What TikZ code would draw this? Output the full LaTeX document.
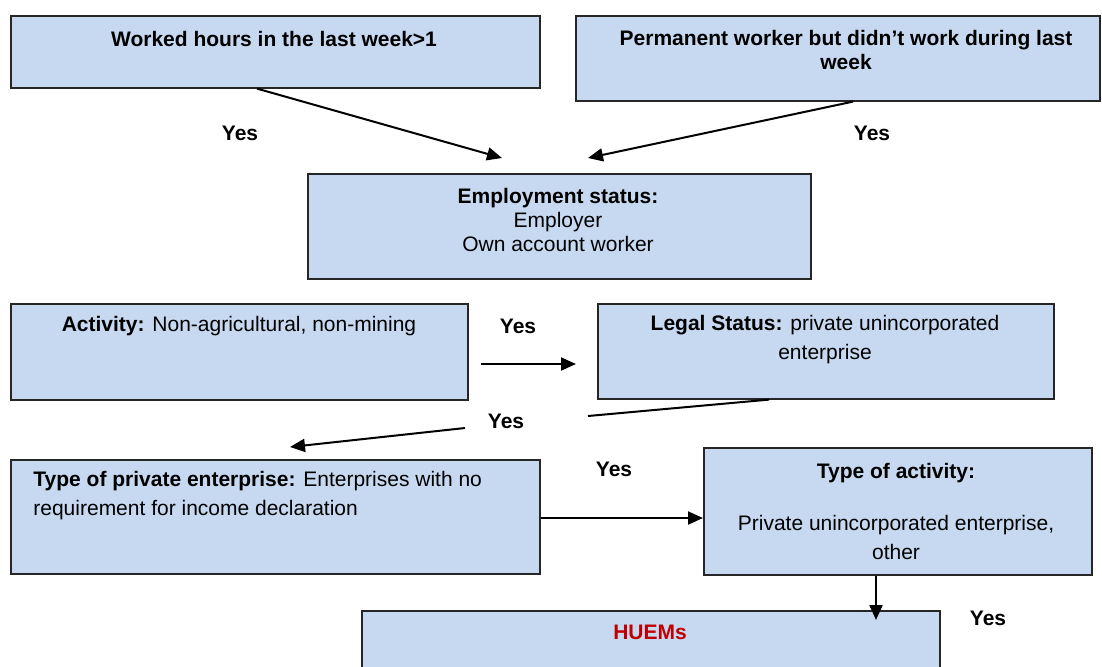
\documentclass[tikz,border=0pt]{standalone}
\usepackage{fontspec}
\setmainfont{Liberation Sans}
\usetikzlibrary{arrows.meta,calc}
\definecolor{boxblue}{RGB}{198,217,241}
\definecolor{huemred}{RGB}{192,0,0}

\begin{document}
\begin{tikzpicture}[x=0.5pt,y=-0.5pt,
  stage/.style={draw=black!85,fill=boxblue,line width=0.8pt,anchor=north west,inner sep=0pt},
  stagetext/.style={font=\fontsize{10.5}{12}\selectfont,align=center,inner sep=0pt},
  widetext/.style={stagetext,font=\fontsize{10.5}{14.5}\selectfont},
  yes/.style={font=\fontsize{10.5}{12}\selectfont\bfseries,inner sep=0pt},
  flow/.style={-{Triangle[length=7.5pt,width=6.5pt]},line width=1pt}]
  \useasboundingbox (0,0) rectangle (1102,666);
  \clip (0,0) rectangle (1102,666);

  % boxes
  \node[stage,minimum width=264.5pt,minimum height=36pt] (work) at (10,15) {};
  \node[stage,minimum width=262pt,minimum height=42.5pt] (perm) at (575,15) {};
  \node[stage,minimum width=251.5pt,minimum height=52.5pt] (empl) at (307,173) {};
  \node[stage,minimum width=228.5pt,minimum height=48pt] (activ) at (10,303) {};
  \node[stage,minimum width=228pt,minimum height=47.5pt] (legal) at (597,303) {};
  \node[stage,minimum width=264.5pt,minimum height=57pt] (priv) at (10,459) {};
  \node[stage,minimum width=194pt,minimum height=63.5pt] (tact) at (703,447) {};
  \node[stage,minimum width=289pt,minimum height=40pt] (huem) at (361,610) {};

  % box texts
  \node[stagetext] (work-t) at (274,39) {\textbf{Worked hours in the last week>1}};
  \node[stagetext] (perm-t) at (846,50) {\textbf{Permanent worker but didn’t work during last}\\\textbf{week}};
  \node[stagetext] (empl-t) at (558,220) {\textbf{Employment status:}\\Employer\\Own account worker};
  \node[stagetext] (activ-t) at (239,326) {\textbf{Activity:} Non-agricultural, non-mining};
  \node[widetext] (legal-t) at (825,340) {\textbf{Legal Status:} private unincorporated\\enterprise};
  \node[widetext,align=left,anchor=west] (priv-t) at (33,496) {\textbf{Type of private enterprise:} Enterprises with no\\requirement for income declaration};
  \node[widetext] (tact-t) at (896,511) {\textbf{Type of activity:}\\[11.5pt]Private unincorporated enterprise,\\other};
  \node[stagetext,text=huemred] (huem-t) at (650,632) {\textbf{HUEMs}};

  % yes labels
  \node[yes] (yes-a) at (240,133) {Yes};
  \node[yes] (yes-b) at (872,133) {Yes};
  \node[yes] (yes-c) at (518,326) {Yes};
  \node[yes] (yes-d) at (506,421) {Yes};
  \node[yes] (yes-e) at (614,469) {Yes};
  \node[yes] (yes-f) at (988,618) {Yes};

  % connectors
  \draw[flow] ($(work.south west)+(247,0)$) -- ($(empl.north west)+(195,-15)$);
  \draw[flow] ($(perm.south west)+(278,0)$) -- ($(empl.north west)+(281,-15)$);
  \draw[flow] ($(activ.north east)+(12,61)$) -- ($(legal.north west)+(-21,61)$);
  \coordinate (brk-a) at (588,416);
  \coordinate (brk-b) at (465,428);
  \draw[line width=1pt] ($(legal.south west)+(172,0)$) -- (brk-a);
  \draw[flow] (brk-b) -- ($(priv.north west)+(280,-12)$);
  \coordinate (priv-out) at ($(priv.north east)+(0,59)$);
  \draw[flow] (priv-out) -- (priv-out -| tact.west);
  \coordinate (tact-out) at ($(tact.south west)+(173,0)$);
  \draw[flow,shorten >=-5pt] (tact-out) -- (tact-out |- huem.north);
\end{tikzpicture}
\end{document}
